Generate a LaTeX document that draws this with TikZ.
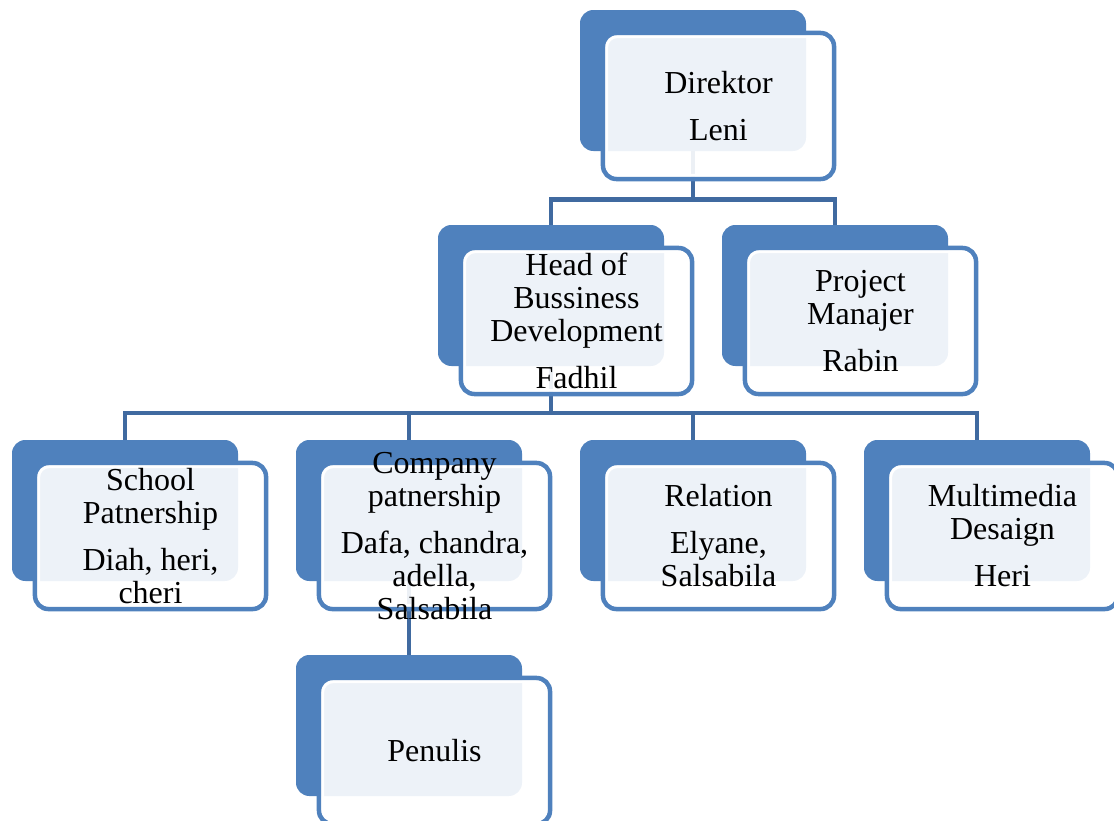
\documentclass[tikz,border=0pt]{standalone}
\usepackage{fontspec}
\setmainfont{Liberation Serif}
\definecolor{boxblue}{RGB}{79,129,189}
\definecolor{linkblue}{RGB}{64,106,160}
\tikzset{
  backbox/.style={fill=boxblue, rounded corners=10pt, minimum width=169.5pt, minimum height=105.75pt, inner sep=0pt, outer sep=0pt},
  frontbox/.style={draw=boxblue, line width=3.4pt, fill=white, fill opacity=0.9, draw opacity=1, rounded corners=10pt, minimum width=173.25pt, minimum height=109.5pt, inner sep=0pt, outer sep=0pt},
  link/.style={draw=linkblue, line width=3.5pt},
  boxtext/.style={align=center, font=\fontsize{24}{24.75}\selectfont, text=black}
}
\begin{document}
\begin{tikzpicture}[x=0.75pt, y=-0.75pt]
  \useasboundingbox (0,0) rectangle (1114,821);
  \clip (0,0) rectangle (1114,821);
  % dark boxes
  \foreach \n/\x/\y in {dir/693/80.5, head/551/295.5, pm/835/295.5, school/125/510.5,
    company/409/510.5, relation/693/510.5, media/977/510.5, penulis/409/725.5}
    \node[backbox] (\n-b) at (\x,\y) {};
  % connectors
  \path (dir-b.south) ++(0,48.5) coordinate (j1);
  \draw[link] (dir-b.south) -- (j1) -| (head-b.north);
  \draw[link] (j1) -| (pm-b.north);
  \path (head-b.south) ++(0,47) coordinate (j2);
  \draw[link] (head-b.south) -- (j2);
  \foreach \m in {school,company,relation,media}
    \draw[link] (j2) -| (\m-b.north);
  \draw[link] (company-b.south) -- (penulis-b.north);
  % light boxes and texts
  \foreach \n/\t in {dir/{Direktor\\[10.5pt]Leni},
    head/{Head of\\Bussiness\\Development\\[10.5pt]Fadhil},
    pm/{Project\\Manajer\\[10.5pt]Rabin},
    school/{School\\Patnership\\[10.5pt]Diah, heri,\\cheri},
    company/{Company\\patnership\\[10.5pt]Dafa, chandra,\\adella,\\Salsabila},
    relation/{Relation\\[10.5pt]Elyane,\\Salsabila},
    media/{Multimedia\\Desaign\\[10.5pt]Heri},
    penulis/{Penulis}}{
    \node[frontbox] (\n-f) at ([shift={(25.5,25.5)}]\n-b.center) {};
    \draw[white, line width=2pt, rounded corners=8pt]
      ([shift={(2.8pt,-2.8pt)}]\n-f.north west) rectangle ([shift={(-2.8pt,2.8pt)}]\n-f.south east);
    \node[boxtext] (\n) at (\n-f.center) {\t};
  }
\end{tikzpicture}
\end{document}
